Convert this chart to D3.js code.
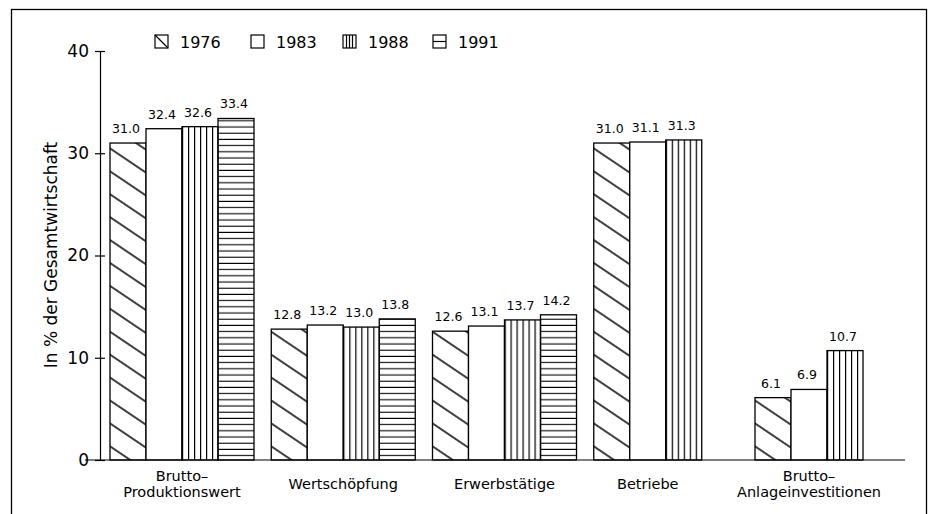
<!DOCTYPE html>
<html>
<head>
<meta charset="utf-8">
<script src="https://cdn.jsdelivr.net/npm/d3@7"></script>
<style>
  body { margin: 0; background: #fff; }
  svg { display: block; font-family: "DejaVu Sans", sans-serif; }
</style>
</head>
<body>
<div class="chart"></div>
<script>
var width = 933;
var height = 514;

// data
var categories = ["Brutto-Produktionswert", "Wertschöpfung", "Erwerbstätige", "Betriebe", "Brutto-Anlageinvestitionen"];
var categoryLines = [["Brutto–", "Produktionswert"], ["Wertschöpfung"], ["Erwerbstätige"], ["Betriebe"], ["Brutto–", "Anlageinvestitionen"]];
var years = ["1976", "1983", "1988", "1991"];
var v1976 = [31.0, 12.8, 12.6, 31.0, 6.1];
var v1983 = [32.4, 13.2, 13.1, 31.1, 6.9];
var v1988 = [32.6, 13.0, 13.7, 31.3, 10.7];
var v1991 = [33.4, 13.8, 14.2, null, null];
var yTicks = [0, 10, 20, 30, 40];
var yLabel = "In % der Gesamtwirtschaft";

var series = [v1976, v1983, v1988, v1991];

var svg = d3.select(".chart").append("svg")
  .attr("width", width)
  .attr("height", height);

// patterns
var defs = svg.append("defs");

defs.append("pattern")
  .attr("id", "p1976")
  .attr("patternUnits", "userSpaceOnUse")
  .attr("width", 40)
  .attr("height", 19)
  .attr("patternTransform", "rotate(34)")
  .append("line")
  .attr("x1", -5).attr("x2", 45)
  .attr("y1", 9).attr("y2", 9)
  .attr("stroke", "#000")
  .attr("stroke-width", 1.4);

defs.append("pattern")
  .attr("id", "p1988")
  .attr("patternUnits", "objectBoundingBox")
  .attr("width", 1 / 6)
  .attr("height", 1)
  .append("line")
  .attr("x1", 0.6).attr("x2", 0.6)
  .attr("y1", 0).attr("y2", 2000)
  .attr("stroke", "#000")
  .attr("stroke-width", 1.2);

defs.append("pattern")
  .attr("id", "p1991")
  .attr("patternUnits", "userSpaceOnUse")
  .attr("width", 10)
  .attr("height", 6.2)
  .append("line")
  .attr("x1", 0).attr("x2", 10)
  .attr("y1", 3).attr("y2", 3)
  .attr("stroke", "#000")
  .attr("stroke-width", 1.1);

var fills = ["url(#p1976)", "#fff", "url(#p1988)", "url(#p1991)"];

// frame
svg.append("rect")
  .attr("x", 11.5).attr("y", 9.5)
  .attr("width", 915).attr("height", 520)
  .attr("fill", "none")
  .attr("stroke", "#000")
  .attr("stroke-width", 1.3);

// scales
var x0 = d3.scaleBand()
  .domain(categories)
  .range([110, 899])
  .paddingInner(0.107)
  .paddingOuter(0);

var x1 = d3.scaleBand()
  .domain(years)
  .range([0, x0.bandwidth()])
  .padding(0);

var y = d3.scaleLinear()
  .domain([0, 40])
  .range([460, 51]);

// y axis
var yAxis = d3.axisLeft(y)
  .tickValues(yTicks)
  .tickSize(5)
  .tickSizeOuter(0)
  .tickPadding(6);

var yAxisGroup = svg.append("g")
  .attr("transform", "translate(100,0)")
  .call(yAxis);

yAxisGroup.select(".domain").attr("stroke-width", 1.2);
yAxisGroup.selectAll(".tick line").attr("x1", -5).attr("x2", 5).attr("stroke-width", 1.2);
yAxisGroup.selectAll(".tick text")
  .attr("font-size", 17)
  .attr("font-family", "DejaVu Sans, sans-serif")
  .attr("fill", "#000");

svg.append("text")
  .attr("transform", "translate(57,255) rotate(-90)")
  .attr("text-anchor", "middle")
  .attr("font-size", 17)
  .text(yLabel);

// bars
var groups = svg.selectAll(".group")
  .data(categories)
  .enter().append("g")
  .attr("class", "group")
  .attr("transform", d => "translate(" + x0(d) + ",0)");

groups.each(function (cat, ci) {
  var rows = years.map((yr, si) => ({year: yr, si: si, value: series[si][ci]}))
    .filter(d => d.value != null);
  var g = d3.select(this);

  g.selectAll("rect")
    .data(rows)
    .enter().append("rect")
    .attr("x", d => x1(d.year))
    .attr("y", d => y(d.value))
    .attr("width", x1.bandwidth())
    .attr("height", d => y(0) - y(d.value))
    .attr("fill", d => fills[d.si])
    .attr("stroke", "#000")
    .attr("stroke-width", 1.3);

  g.selectAll("text.val")
    .data(rows)
    .enter().append("text")
    .attr("class", "val")
    .attr("x", d => x1(d.year) + x1.bandwidth() / 2 - 2)
    .attr("y", d => y(d.value) - 10)
    .attr("text-anchor", "middle")
    .attr("font-size", 12.5)
    .text(d => d3.format(".1f")(d.value));

  var center = rows.length * x1.bandwidth() / 2;
  var lines = categoryLines[ci];
  g.append("text")
    .attr("text-anchor", "middle")
    .attr("font-size", 14.5)
    .selectAll("tspan")
    .data(lines)
    .enter().append("tspan")
    .attr("x", center)
    .attr("y", (d, i) => lines.length == 1 ? 489 : 481 + i * 16)
    .text(d => d);
});

// baseline
svg.append("line")
  .attr("x1", x0.range()[0] - 25)
  .attr("x2", x0.range()[1] + 6)
  .attr("y1", y(0)).attr("y2", y(0))
  .attr("stroke", "#000")
  .attr("stroke-width", 1.2);

// legend
var legendX = [155, 251, 343, 433];
var legend = svg.selectAll(".legend")
  .data(years)
  .enter().append("g")
  .attr("class", "legend")
  .attr("transform", (d, i) => "translate(" + legendX[i] + ",35)");

legend.append("rect")
  .attr("width", 13).attr("height", 13)
  .attr("fill", "#fff")
  .attr("stroke", "#000")
  .attr("stroke-width", 1.2);

legend.filter((d, i) => i == 0).append("line")
  .attr("x1", 0).attr("y1", 0).attr("x2", 13).attr("y2", 13)
  .attr("stroke", "#000").attr("stroke-width", 1.2);

legend.filter((d, i) => i == 2).selectAll("line")
  .data([3.5, 6.5, 9.5])
  .enter().append("line")
  .attr("x1", d => d).attr("x2", d => d)
  .attr("y1", 0).attr("y2", 13)
  .attr("stroke", "#000").attr("stroke-width", 1.2);

legend.filter((d, i) => i == 3).append("line")
  .attr("x1", 0).attr("x2", 13)
  .attr("y1", 6.5).attr("y2", 6.5)
  .attr("stroke", "#000").attr("stroke-width", 1.2);

legend.append("text")
  .attr("x", 25)
  .attr("y", 12.5)
  .attr("font-size", 16)
  .text(d => d);
</script>
</body>
</html>
